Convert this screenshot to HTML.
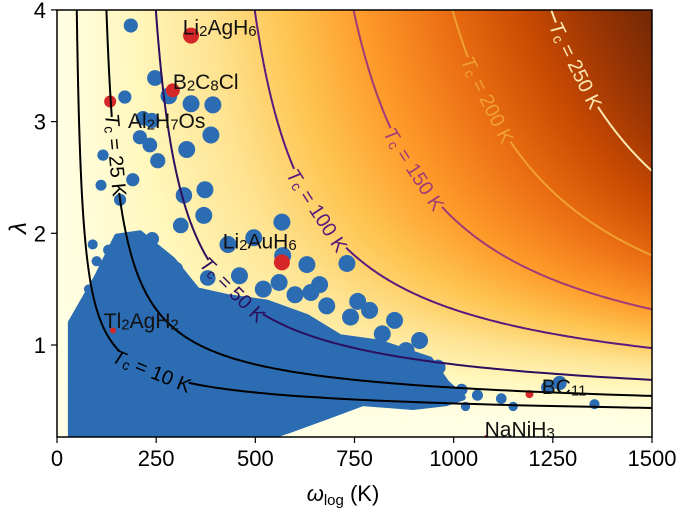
<!DOCTYPE html>
<html><head><meta charset="utf-8">
<style>
html,body{margin:0;padding:0;background:#fff;}
#wrap{position:relative;width:685px;height:508px;overflow:hidden;font-family:"Liberation Sans","DejaVu Sans",sans-serif;}
canvas{position:absolute;left:57px;top:10px;}
svg{position:absolute;left:0;top:0;}
</style></head><body>
<div id="wrap">
<canvas id="bg" width="595" height="427"></canvas>
<svg id="svg" width="685" height="508"></svg>
</div>
<script>
// ---- data ----
const xTicks = [0, 250, 500, 750, 1000, 1250, 1500];
const yTicks = [1, 2, 3, 4];
const tcLevels = [10, 25, 50, 100, 150, 200, 250];
const tcColors = ["#000000", "#000000", "#2c0f5e", "#5b1a7e", "#a23b76", "#f0a030", "#fde9b0"];
// dense cloud outline (omega, lambda)
const cloudW = [35, 35, 101, 151, 209, 292, 353, 428, 529, 630, 713, 814, 940, 982, 1023, 982, 897, 771, 688, 587, 537];
const cloudL = [0.18, 1.2, 1.61, 1.97, 2.0, 1.76, 1.49, 1.43, 1.38, 1.25, 1.07, 1.02, 0.87, 0.66, 0.53, 0.48, 0.445, 0.48, 0.37, 0.24, 0.18];
// individual blue materials
const blueW = [186, 247, 282, 338, 393, 171, 217, 239, 209, 388, 254, 116, 327, 111, 191, 159, 320, 373, 567, 496, 431, 569, 370, 312, 731, 662, 630, 758, 788, 851, 914, 1237, 1267, 1355, 234,
  100, 80, 130, 170, 240, 250, 300, 380, 460, 520, 600, 680, 740, 820, 880, 960, 1020, 1060, 1120, 1150, 1030, 70, 65, 90, 560, 640];
const blueL = [3.86, 3.39, 3.23, 3.16, 3.15, 3.22, 3.03, 3.01, 2.86, 2.88, 2.65, 2.70, 2.75, 2.43, 2.48, 2.30, 2.34, 2.39, 2.10, 1.96, 1.90, 1.80, 2.16, 2.07, 1.73, 1.54, 1.72, 1.39, 1.31, 1.22, 1.04, 0.62, 0.66, 0.47, 2.79,
  1.75, 1.5, 1.85, 1.95, 1.95, 1.8, 1.68, 1.6, 1.62, 1.5, 1.45, 1.35, 1.25, 1.1, 0.95, 0.8, 0.6, 0.55, 0.52, 0.45, 0.45, 1.2, 0.9, 1.9, 1.56, 1.47];
// highlighted materials
const redNames = ["Li2AgH6", "B2C8Cl", "Al2H7Os", "Li2AuH6", "Tl2AgH2", "BC11", "NaNiH3"];
const redLabels = ["Li<tspan baseline-shift='-25%' font-size='15'>2</tspan>AgH<tspan baseline-shift='-25%' font-size='15'>6</tspan>",
 "B<tspan baseline-shift='-25%' font-size='15'>2</tspan>C<tspan baseline-shift='-25%' font-size='15'>8</tspan>Cl",
 "Al<tspan baseline-shift='-25%' font-size='15'>2</tspan>H<tspan baseline-shift='-25%' font-size='15'>7</tspan>Os",
 "Li<tspan baseline-shift='-25%' font-size='15'>2</tspan>AuH<tspan baseline-shift='-25%' font-size='15'>6</tspan>",
 "Tl<tspan baseline-shift='-25%' font-size='15'>2</tspan>AgH<tspan baseline-shift='-25%' font-size='15'>2</tspan>",
 "BC<tspan baseline-shift='-25%' font-size='15'>11</tspan>",
 "NaNiH<tspan baseline-shift='-25%' font-size='15'>3</tspan>"];
const redW = [338, 292, 134, 567, 141, 1191, 1081];
const redL = [3.77, 3.28, 3.18, 1.74, 1.13, 0.56, 0.18];
const redR = [8, 7, 6, 8, 3, 4, 1.5];
const labW = [317, 292, 179, 418, 118, 1222, 1078];
const labL = [3.84, 3.35, 3.0, 1.92, 1.21, 0.62, 0.24];
// contour label lambda positions
const clL = [0.76, 2.7, 1.49, 2.2, 2.57, 3.19, 3.5];

// ---- axes ----
const X0 = 57, X1 = 652, Y0 = 437, Y1 = 10;
const xs = w => X0 + w * (X1 - X0) / 1500;
const ys = l => 345 - (l - 1) * 111.7;
const LMIN = 1 - (Y0 - 345) / 111.7;

function tc(w, l) {
  const d = l - 0.1 * (1 + 0.62 * l);
  if (d <= 0) return 0;
  return w / 1.2 * Math.exp(-1.04 * (1 + l) / d);
}
const cm = [[255,255,229],[255,247,188],[254,227,145],[254,196,79],[254,153,41],[236,112,20],[204,76,2],[153,52,4],[102,37,6]];
function cmap(t) {
  t = Math.max(0, Math.min(1, t)) * (cm.length - 1);
  const i = Math.min(cm.length - 2, Math.floor(t)), f = t - i;
  return cm[i].map((c, k) => c + (cm[i + 1][k] - c) * f);
}
const cv = document.getElementById('bg'), ctx = cv.getContext('2d');
const img = ctx.createImageData(595, 427);
for (let py = 0; py < 427; py++) {
  const l = 1 + (345 - (py + 10)) / 111.7;
  for (let px = 0; px < 595; px++) {
    const w = px * 1500 / 595;
    const c = cmap(tc(w, l) / 310);
    const o = (py * 595 + px) * 4;
    img.data[o] = c[0]; img.data[o + 1] = c[1]; img.data[o + 2] = c[2]; img.data[o + 3] = 255;
  }
}
ctx.putImageData(img, 0, 0);

const NS = "http://www.w3.org/2000/svg";
const svg = document.getElementById('svg');
function mk(tag, attrs, parent) {
  const e = document.createElementNS(NS, tag);
  for (const k in attrs) e.setAttribute(k, attrs[k]);
  (parent || svg).appendChild(e);
  return e;
}
const defs = mk('defs', {});
const cp = mk('clipPath', {id: 'clip'}, defs);
mk('rect', {x: X0, y: Y1, width: X1 - X0, height: Y0 - Y1}, cp);
const plot = mk('g', {'clip-path': 'url(#clip)'});



const cloud = mk('polygon', {points: cloudW.map((w, i) => xs(w) + ',' + ys(cloudL[i])).join(' '), fill: '#2b6cb3', stroke: '#2b6cb3', 'stroke-width': 6, 'stroke-linejoin': 'round'}, plot);



blueW.forEach((w, i) => {
  const r = Math.min(8.5, 4 + tc(w, blueL[i]) / 12);
  const c = mk('circle', {cx: xs(w), cy: ys(blueL[i]), r: r, fill: '#2b6cb3'}, plot);
  
  
});
redW.forEach((w, i) => {
  const c = mk('circle', {cx: xs(w), cy: ys(redL[i]), r: redR[i], fill: '#d62728'}, plot);
  
  
});

const wAt = (T, l) => T / tc(1, l);
tcLevels.forEach((T, k) => {
  const lx = xs(wAt(T, clL[k])), ly = ys(clL[k]);
  const half = 20 + String(T).length * 9;
  const segs = []; let cur = [];
  for (let l = LMIN - 0.02; l <= 4.05; l += 0.005) {
    if (tc(1, l) <= 0) continue;
    const w = wAt(T, l);
    if (w > 1600) continue;
    const x = xs(w), y = ys(l);
    if (Math.hypot(x - lx, y - ly) < half) { if (cur.length) segs.push(cur); cur = []; continue; }
    cur.push(x.toFixed(1) + ',' + y.toFixed(1));
  }
  if (cur.length) segs.push(cur);
  segs.forEach(s => {
    const pl = mk('polyline', {points: s.join(' '), fill: 'none', stroke: tcColors[k], 'stroke-width': 2}, plot);
    
    
  });
  const x1 = xs(wAt(T, clL[k] + 0.03)), y1 = ys(clL[k] + 0.03);
  const x2 = xs(wAt(T, clL[k] - 0.03)), y2 = ys(clL[k] - 0.03);
  const ang = Math.atan2(y2 - y1, x2 - x1) * 180 / Math.PI;
  const t = mk('text', {x: lx, y: ly, 'text-anchor': 'middle', 'dominant-baseline': 'central', 'font-size': 20, fill: tcColors[k], transform: 'rotate(' + ang.toFixed(1) + ' ' + lx + ' ' + ly + ')'}, plot);
  t.innerHTML = "<tspan font-style='italic'>T</tspan><tspan font-size='14' baseline-shift='-20%'>c</tspan> = " + T + " K";
  
  
});

redNames.forEach((n, i) => {
  const t = mk('text', {x: xs(labW[i]), y: ys(labL[i]), 'text-anchor': 'start', 'dominant-baseline': 'central', 'font-size': 21, fill: '#111'});
  t.innerHTML = redLabels[i];
  
  
});

const fr = mk('rect', {x: X0, y: Y1, width: X1 - X0, height: Y0 - Y1, fill: 'none', stroke: '#000', 'stroke-width': 1.5});


xTicks.forEach(v => {
  const x = xs(v);
  const tk = mk('line', {x1: x, x2: x, y1: Y0, y2: Y0 + 6, stroke: '#000', 'stroke-width': 1.2});
  
  
  const t = mk('text', {x: x, y: Y0 + 29, 'text-anchor': 'middle', 'font-size': 22, fill: '#000'});
  t.textContent = v;
  
  
});
yTicks.forEach(v => {
  const y = ys(v);
  const tk = mk('line', {x1: X0 - 6, x2: X0, y1: y, y2: y, stroke: '#000', 'stroke-width': 1.2});
  
  
  const t = mk('text', {x: X0 - 11, y: y + 8, 'text-anchor': 'end', 'font-size': 22, fill: '#000'});
  t.textContent = v;
  
  
});
const xt = mk('text', {x: 343, y: 501, 'text-anchor': 'middle', 'font-size': 22, fill: '#000'});
xt.innerHTML = "<tspan font-style='italic'>ω</tspan><tspan font-size='15' baseline-shift='-25%'>log</tspan> (K)";


const yt = mk('text', {x: 26, y: 228, 'text-anchor': 'middle', 'font-size': 24, 'font-style': 'italic', fill: '#000', transform: 'rotate(-90 26 228)'});
yt.textContent = "λ";


</script>
</body></html>
